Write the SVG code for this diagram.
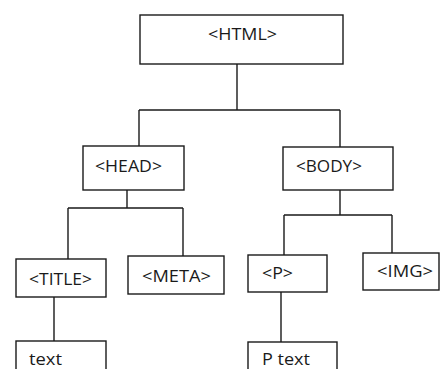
<svg xmlns="http://www.w3.org/2000/svg" width="440" height="369" viewBox="0 0 440 369">
<style>
.box{fill:#fff;stroke:#1a1a1a;stroke-width:1.4}
.lbl{font-family:"Open Sans","Liberation Sans",sans-serif;font-size:16px;fill:#1a1a1a}
.conn{fill:none;stroke:#1a1a1a;stroke-width:1.4}
</style>
<rect width="440" height="369" fill="#fff"/>
<g id="connectors">
<path class="conn" d="M237,64V110M139,110H340M139,110V146M340,110V147"/>
<path class="conn" d="M127,190V208M68,208H183M68,208V259M183,208V256"/>
<path class="conn" d="M340,190V215M284,215H392M284,215V255M392,215V253"/>
<path class="conn" d="M54,297V341M281,292V342"/>
</g>
<g id="html"><rect class="box" x="140" y="15" width="203" height="49"/><text class="lbl" x="208" y="40" textLength="69" lengthAdjust="spacingAndGlyphs">&lt;HTML&gt;</text></g>
<g id="head"><rect class="box" x="83" y="146" width="101" height="44"/><text class="lbl" x="95" y="172" textLength="67" lengthAdjust="spacingAndGlyphs">&lt;HEAD&gt;</text></g>
<g id="body"><rect class="box" x="283" y="147" width="110" height="43"/><text class="lbl" x="296" y="172" textLength="66" lengthAdjust="spacingAndGlyphs">&lt;BODY&gt;</text></g>
<g id="title"><rect class="box" x="16" y="259" width="90" height="38"/><text class="lbl" x="29" y="285" textLength="63" lengthAdjust="spacingAndGlyphs">&lt;TITLE&gt;</text></g>
<g id="meta"><rect class="box" x="128" y="256" width="96" height="38"/><text class="lbl" x="142" y="282" textLength="69" lengthAdjust="spacingAndGlyphs">&lt;META&gt;</text></g>
<g id="p"><rect class="box" x="248" y="255" width="79" height="37"/><text class="lbl" x="262" y="279" textLength="31" lengthAdjust="spacingAndGlyphs">&lt;P&gt;</text></g>
<g id="img"><rect class="box" x="363" y="253" width="76" height="37"/><text class="lbl" x="377" y="277" textLength="56" lengthAdjust="spacingAndGlyphs">&lt;IMG&gt;</text></g>
<g id="text"><rect class="box" x="16" y="341" width="90" height="40"/><text class="lbl" x="29" y="365" textLength="33" lengthAdjust="spacingAndGlyphs">text</text></g>
<g id="ptext"><rect class="box" x="248" y="342" width="89" height="40"/><text class="lbl" x="262" y="365" textLength="48" lengthAdjust="spacingAndGlyphs">P text</text></g>
</svg>
